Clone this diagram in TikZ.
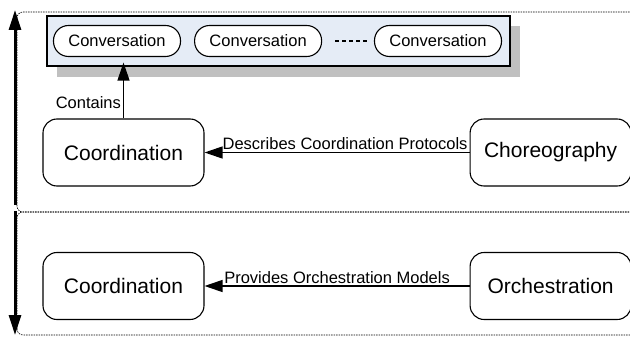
\documentclass[tikz,border=0pt]{standalone}
\usepackage{fontspec}
\setmainfont{Liberation Sans}
\usetikzlibrary{arrows.meta, positioning}

\definecolor{convfill}{RGB}{229,236,246}
\definecolor{shadowgrey}{RGB}{192,192,192}

\tikzset{
  layer/.style = {draw, dash pattern=on 1.5pt off 1pt, line width=0.6pt, rounded corners=6pt},
  role/.style = {draw, rounded corners=14pt, line width=1.1pt, minimum width=161pt, minimum height=67pt, font=\fontsize{21}{25}\selectfont},
  conv/.style = {draw, rounded corners=15pt, line width=1.1pt, fill=white, minimum width=127pt, minimum height=31pt, font=\fontsize{16.5}{19}\selectfont},
  rel/.style = {-{Triangle[length=18pt,width=12pt]}, line width=1.2pt},
  lbl/.style = {font=\fontsize{16.5}{19}\selectfont, inner sep=2pt},
  axis/.style = {line width=3pt, -{Triangle[length=20pt,width=12pt]}}
}

\begin{document}
\begin{tikzpicture}[x=1pt,y=-1pt]
\useasboundingbox (0,0) rectangle (630,337);

% the two layers
\draw[layer] (17,212) rectangle (640,12);
\draw[layer] (17,335) rectangle (640,212);

% conversations
\fill[shadowgrey] (57,26) rectangle (520,77);
\node[draw, fill=convfill, line width=1.1pt, minimum width=463pt, minimum height=50pt, inner sep=0pt] (convs) at (278.5,41) {};
\node[conv] (conv1) at (117,41) {Conversation};
\node[conv, right=13pt of conv1] (conv2) {Conversation};
\node[conv] (conv3) at (438,41) {Conversation};
\draw[dash pattern=on 4pt off 3pt, line width=1.5pt] ([xshift=13pt]conv2.east) -- ([xshift=-5pt]conv3.west);

% upper layer
\node[role] (coord1) at (123.5,152.5) {Coordination};
\node[role, right=265pt of coord1] (choreo) {Choreography};
\draw[rel, shorten >=-4pt] (coord1.north) -- node[lbl, left, pos=0.3] {Contains} (coord1.north |- convs.south);
\draw[rel] (choreo) -- node[lbl, above, xshift=8pt] {Describes Coordination Protocols} (coord1);

% lower layer
\node[role] (coord2) at (123.5,286) {Coordination};
\node[role, right=265pt of coord2] (orch) {Orchestration};
\draw[rel] (orch) -- node[lbl, above] {Provides Orchestration Models} (coord2);

% axis
\coordinate (uptop) at (15,10);
\coordinate (upbot) at (15,205);
\coordinate (downtop) at (15,211);
\coordinate (downbot) at (15,335);
\draw[axis] (upbot) -- (uptop);
\draw[axis] (downtop) -- (downbot);
\end{tikzpicture}
\end{document}
